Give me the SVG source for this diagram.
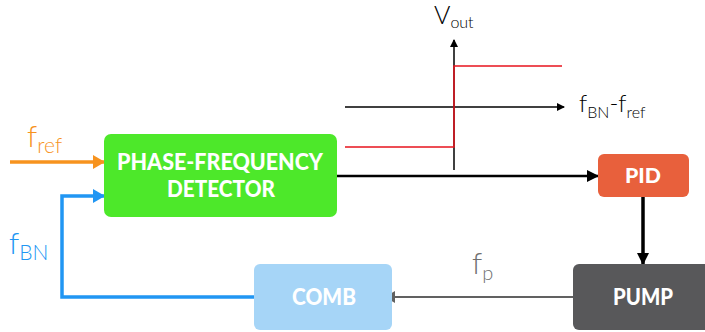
<svg xmlns="http://www.w3.org/2000/svg" width="705" height="332" viewBox="0 0 705 332">
<defs>
<style>
.box{stroke:none}
.lbl{font-family:Lato,"Open Sans","Liberation Sans",sans-serif;font-weight:900;fill:#ffffff;text-anchor:middle}
.math{font-family:Lato,"Open Sans","Liberation Sans",sans-serif;font-weight:300}
.sub{font-size:16px}
</style>
<marker id="aBlack" markerWidth="8" markerHeight="8" refX="7" refY="4" orient="auto" markerUnits="userSpaceOnUse"><path d="M0,0 L8,4 L0,8 z" fill="#000"/></marker>
<marker id="aBig" markerWidth="12" markerHeight="12" refX="11" refY="6" orient="auto" markerUnits="userSpaceOnUse"><path d="M0,0 L12,6 L0,12 z" fill="#000"/></marker>
<marker id="aOrange" markerWidth="12" markerHeight="14" refX="11" refY="7" orient="auto" markerUnits="userSpaceOnUse"><path d="M0,0 L12,7 L0,14 z" fill="#f7931e"/></marker>
<marker id="aBlue" markerWidth="12" markerHeight="14" refX="11" refY="7" orient="auto" markerUnits="userSpaceOnUse"><path d="M0,0 L12,7 L0,14 z" fill="#2196f3"/></marker>
<marker id="aGray" markerWidth="10" markerHeight="12" refX="1" refY="6" orient="auto-start-reverse" markerUnits="userSpaceOnUse"><path d="M0,0 L10,6 L0,12 z" fill="#616161"/></marker>
</defs>
<rect width="705" height="332" fill="#ffffff"/>

<g id="chart">
<line x1="345" y1="107" x2="564" y2="107" stroke="#000" stroke-width="1.5" marker-end="url(#aBlack)"/>
<line x1="454" y1="170" x2="454" y2="40" stroke="#000" stroke-width="1.5" marker-end="url(#aBlack)"/>
<polyline points="345,147 454,147 454,66 562,66" fill="none" stroke="#e8141e" stroke-width="1.5"/>
<text class="math" x="434" y="24" font-size="25" fill="#000">V<tspan class="sub" dy="4">out</tspan></text>
<text class="math" x="579" y="112" font-size="24" fill="#000">f<tspan class="sub" dy="6">BN</tspan><tspan dy="-6">-f</tspan><tspan class="sub" dy="6">ref</tspan></text>
</g>

<g id="connectors">
<line x1="10" y1="162" x2="104" y2="162" stroke="#f7931e" stroke-width="3.5" marker-end="url(#aOrange)"/>
<polyline points="254,297 62,297 62,196 104,196" fill="none" stroke="#2196f3" stroke-width="3.5" marker-end="url(#aBlue)"/>
<line x1="337" y1="176" x2="598" y2="176" stroke="#000" stroke-width="2.5" marker-end="url(#aBig)"/>
<line x1="643" y1="197" x2="643" y2="264" stroke="#000" stroke-width="3.5" marker-end="url(#aBig)"/>
<line x1="394" y1="297" x2="573" y2="297" stroke="#616161" stroke-width="2" marker-start="url(#aGray)"/>
<text class="math" x="27" y="147" font-size="30" fill="#f7931e">f<tspan font-size="21" dy="6">ref</tspan></text>
<text class="math" x="9" y="254" font-size="30" fill="#2196f3">f<tspan font-size="21" dy="6">BN</tspan></text>
<text class="math" x="472" y="274" font-size="30" fill="#707070">f<tspan font-size="20" dy="6">p</tspan></text>
</g>

<g id="pfd">
<rect class="box" x="104" y="134" width="233" height="83" rx="7" fill="#4de82a"/>
<text class="lbl" x="220" y="170" font-size="23" textLength="206" lengthAdjust="spacingAndGlyphs">PHASE-FREQUENCY</text>
<text class="lbl" x="221" y="197" font-size="23" textLength="108" lengthAdjust="spacingAndGlyphs">DETECTOR</text>
</g>

<g id="pid">
<rect class="box" x="598" y="154" width="91" height="43" rx="6" fill="#e8603c"/>
<text class="lbl" x="643" y="183" font-size="21" textLength="36" lengthAdjust="spacingAndGlyphs">PID</text>
</g>

<g id="pump">
<rect class="box" x="573" y="264" width="140" height="66" rx="6" fill="#58585a"/>
<text class="lbl" x="643" y="305" font-size="23" textLength="60" lengthAdjust="spacingAndGlyphs">PUMP</text>
</g>

<g id="comb">
<rect class="box" x="254" y="264" width="138" height="66" rx="6" fill="#a6d5f7"/>
<text class="lbl" x="324" y="305" font-size="23" textLength="64" lengthAdjust="spacingAndGlyphs">COMB</text>
</g>
</svg>
